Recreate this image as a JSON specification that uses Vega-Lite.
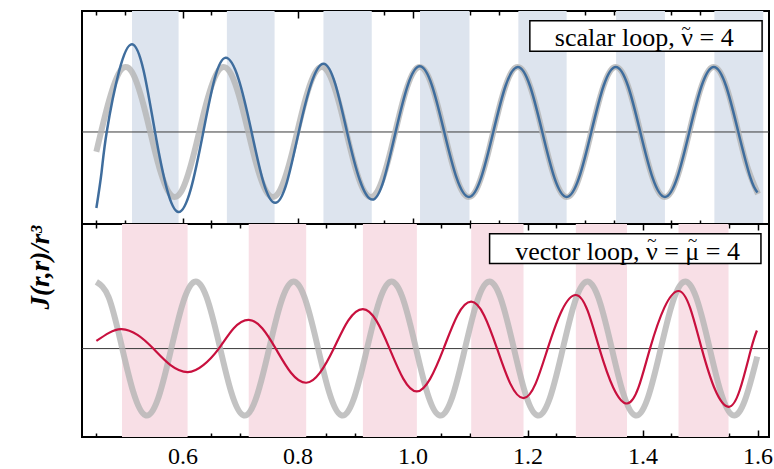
{
  "$schema": "https://vega.github.io/schema/vega-lite/v6.json",
  "padding": {"left": 25, "top": 9, "right": 4, "bottom": 0},
  "spacing": 0,
  "bounds": "flush",
  "background": "white",
  "config": {
    "view": {"stroke": "black", "strokeWidth": 2},
    "axis": {"grid": false, "domain": false, "labelFont": "Liberation Serif", "titleFont": "Liberation Serif"}
  },
  "datasets": {
    "topBands": [
      {"start": 0.512, "end": 0.593}, {"start": 0.677, "end": 0.760}, {"start": 0.845, "end": 0.929},
      {"start": 1.013, "end": 1.099}, {"start": 1.184, "end": 1.268}, {"start": 1.354, "end": 1.439},
      {"start": 1.525, "end": 1.610}
    ],
    "botBands": [
      {"start": 0.4946, "end": 0.6087}, {"start": 0.715, "end": 0.815}, {"start": 0.9136, "end": 1.0075},
      {"start": 1.102, "end": 1.193}, {"start": 1.284, "end": 1.373}, {"start": 1.4626, "end": 1.5496}
    ],
    "topGrey": [
      {"x": 0.4500, "y": -0.304}, {"x": 0.4713, "y": 0.459}, {"x": 0.4926, "y": 0.953}, {"x": 0.5139, "y": 0.889},
      {"x": 0.5353, "y": 0.304}, {"x": 0.5566, "y": -0.459}, {"x": 0.5779, "y": -0.953}, {"x": 0.5992, "y": -0.889},
      {"x": 0.6205, "y": -0.304}, {"x": 0.6418, "y": 0.459}, {"x": 0.6631, "y": 0.953}, {"x": 0.6844, "y": 0.889},
      {"x": 0.7058, "y": 0.304}, {"x": 0.7271, "y": -0.459}, {"x": 0.7484, "y": -0.953}, {"x": 0.7697, "y": -0.889},
      {"x": 0.7910, "y": -0.304}, {"x": 0.8123, "y": 0.459}, {"x": 0.8336, "y": 0.953}, {"x": 0.8549, "y": 0.889},
      {"x": 0.8763, "y": 0.304}, {"x": 0.8976, "y": -0.459}, {"x": 0.9189, "y": -0.953}, {"x": 0.9402, "y": -0.889},
      {"x": 0.9615, "y": -0.304}, {"x": 0.9828, "y": 0.459}, {"x": 1.0041, "y": 0.953}, {"x": 1.0254, "y": 0.889},
      {"x": 1.0468, "y": 0.304}, {"x": 1.0681, "y": -0.459}, {"x": 1.0894, "y": -0.953}, {"x": 1.1107, "y": -0.889},
      {"x": 1.1320, "y": -0.304}, {"x": 1.1533, "y": 0.459}, {"x": 1.1746, "y": 0.953}, {"x": 1.1959, "y": 0.889},
      {"x": 1.2173, "y": 0.304}, {"x": 1.2386, "y": -0.459}, {"x": 1.2599, "y": -0.953}, {"x": 1.2812, "y": -0.889},
      {"x": 1.3025, "y": -0.304}, {"x": 1.3238, "y": 0.459}, {"x": 1.3451, "y": 0.953}, {"x": 1.3664, "y": 0.889},
      {"x": 1.3878, "y": 0.304}, {"x": 1.4091, "y": -0.459}, {"x": 1.4304, "y": -0.953}, {"x": 1.4517, "y": -0.889},
      {"x": 1.4730, "y": -0.304}, {"x": 1.4943, "y": 0.459}, {"x": 1.5156, "y": 0.953}, {"x": 1.5369, "y": 0.889},
      {"x": 1.5583, "y": 0.304}, {"x": 1.5796, "y": -0.459}, {"x": 1.6009, "y": -0.953}
    ],
    "topBlue": [
      {"x": 0.450, "y": -1.17}, {"x": 0.459, "y": -0.62}, {"x": 0.468, "y": 0}, {"x": 0.490, "y": 0.95},
      {"x": 0.512, "y": 1.35}, {"x": 0.532, "y": 0.95}, {"x": 0.552, "y": 0}, {"x": 0.5725, "y": -0.87},
      {"x": 0.593, "y": -1.23}, {"x": 0.6145, "y": -0.87}, {"x": 0.636, "y": 0}, {"x": 0.6555, "y": 0.81},
      {"x": 0.675, "y": 1.14}, {"x": 0.6975, "y": 0.81}, {"x": 0.720, "y": 0}, {"x": 0.7405, "y": -0.77},
      {"x": 0.761, "y": -1.09}, {"x": 0.7815, "y": -0.77}, {"x": 0.802, "y": 0}, {"x": 0.8235, "y": 0.74},
      {"x": 0.845, "y": 1.05}, {"x": 0.8655, "y": 0.74}, {"x": 0.886, "y": 0}, {"x": 0.908, "y": -0.735},
      {"x": 0.930, "y": -1.04}, {"x": 0.950, "y": -0.735}, {"x": 0.9705, "y": 0}, {"x": 0.9915, "y": 0.714},
      {"x": 1.0125, "y": 1.01}, {"x": 1.0338, "y": 0.714}, {"x": 1.0551, "y": 0}, {"x": 1.0766, "y": -0.707},
      {"x": 1.098, "y": -1.0}, {"x": 1.1192, "y": -0.707}, {"x": 1.1404, "y": 0}, {"x": 1.1617, "y": 0.707},
      {"x": 1.183, "y": 1.0}, {"x": 1.2043, "y": 0.707}, {"x": 1.2256, "y": 0}, {"x": 1.2468, "y": -0.707},
      {"x": 1.268, "y": -1.0}, {"x": 1.2895, "y": -0.707}, {"x": 1.3109, "y": 0}, {"x": 1.3322, "y": 0.707},
      {"x": 1.3535, "y": 1.0}, {"x": 1.3748, "y": 0.707}, {"x": 1.3961, "y": 0}, {"x": 1.4176, "y": -0.707},
      {"x": 1.439, "y": -1.0}, {"x": 1.4602, "y": -0.707}, {"x": 1.4814, "y": 0}, {"x": 1.5027, "y": 0.707},
      {"x": 1.524, "y": 1.0}, {"x": 1.5453, "y": 0.707}, {"x": 1.5666, "y": 0}, {"x": 1.5878, "y": -0.707},
      {"x": 1.600, "y": -0.93}
    ],
    "botGrey": [
      {"x": 0.4500, "y": 0.996}, {"x": 0.4713, "y": 0.769}, {"x": 0.4926, "y": 0.092}, {"x": 0.5139, "y": -0.639},
      {"x": 0.5352, "y": -0.996}, {"x": 0.5564, "y": -0.769}, {"x": 0.5777, "y": -0.092}, {"x": 0.5990, "y": 0.639},
      {"x": 0.6203, "y": 0.996}, {"x": 0.6416, "y": 0.769}, {"x": 0.6629, "y": 0.092}, {"x": 0.6842, "y": -0.639},
      {"x": 0.7055, "y": -0.996}, {"x": 0.7267, "y": -0.769}, {"x": 0.7480, "y": -0.092}, {"x": 0.7693, "y": 0.639},
      {"x": 0.7906, "y": 0.996}, {"x": 0.8119, "y": 0.769}, {"x": 0.8332, "y": 0.092}, {"x": 0.8545, "y": -0.639},
      {"x": 0.8758, "y": -0.996}, {"x": 0.8970, "y": -0.769}, {"x": 0.9183, "y": -0.092}, {"x": 0.9396, "y": 0.639},
      {"x": 0.9609, "y": 0.996}, {"x": 0.9822, "y": 0.769}, {"x": 1.0035, "y": 0.092}, {"x": 1.0248, "y": -0.639},
      {"x": 1.0461, "y": -0.996}, {"x": 1.0673, "y": -0.769}, {"x": 1.0886, "y": -0.092}, {"x": 1.1099, "y": 0.639},
      {"x": 1.1312, "y": 0.996}, {"x": 1.1525, "y": 0.769}, {"x": 1.1738, "y": 0.092}, {"x": 1.1951, "y": -0.639},
      {"x": 1.2164, "y": -0.996}, {"x": 1.2376, "y": -0.769}, {"x": 1.2589, "y": -0.092}, {"x": 1.2802, "y": 0.639},
      {"x": 1.3015, "y": 0.996}, {"x": 1.3228, "y": 0.769}, {"x": 1.3441, "y": 0.092}, {"x": 1.3654, "y": -0.639},
      {"x": 1.3867, "y": -0.996}, {"x": 1.4079, "y": -0.769}, {"x": 1.4292, "y": -0.092}, {"x": 1.4505, "y": 0.639},
      {"x": 1.4718, "y": 0.996}, {"x": 1.4931, "y": 0.769}, {"x": 1.5144, "y": 0.092}, {"x": 1.5357, "y": -0.639},
      {"x": 1.5570, "y": -0.996}, {"x": 1.5782, "y": -0.769}, {"x": 1.5995, "y": -0.12}
    ],
    "botRed": [
      {"x": 0.450, "y": 0.115}, {"x": 0.472, "y": 0.235}, {"x": 0.494, "y": 0.29}, {"x": 0.5215, "y": 0.205},
      {"x": 0.549, "y": 0}, {"x": 0.579, "y": -0.247}, {"x": 0.609, "y": -0.35}, {"x": 0.636, "y": -0.247},
      {"x": 0.663, "y": 0}, {"x": 0.689, "y": 0.304}, {"x": 0.715, "y": 0.43}, {"x": 0.7385, "y": 0.304},
      {"x": 0.762, "y": 0}, {"x": 0.7885, "y": -0.36}, {"x": 0.815, "y": -0.51}, {"x": 0.839, "y": -0.36},
      {"x": 0.863, "y": 0}, {"x": 0.888, "y": 0.417}, {"x": 0.9136, "y": 0.59}, {"x": 0.937, "y": 0.417},
      {"x": 0.960, "y": 0}, {"x": 0.984, "y": -0.452}, {"x": 1.0075, "y": -0.64}, {"x": 1.0305, "y": -0.452},
      {"x": 1.054, "y": 0}, {"x": 1.078, "y": 0.495}, {"x": 1.102, "y": 0.70}, {"x": 1.1245, "y": 0.495},
      {"x": 1.147, "y": 0}, {"x": 1.170, "y": -0.523}, {"x": 1.193, "y": -0.74}, {"x": 1.214, "y": -0.523},
      {"x": 1.235, "y": 0}, {"x": 1.2595, "y": 0.566}, {"x": 1.284, "y": 0.80}, {"x": 1.3045, "y": 0.566},
      {"x": 1.325, "y": 0}, {"x": 1.349, "y": -0.58}, {"x": 1.373, "y": -0.82}, {"x": 1.393, "y": -0.58},
      {"x": 1.413, "y": 0}, {"x": 1.4378, "y": 0.608}, {"x": 1.4626, "y": 0.86}, {"x": 1.4828, "y": 0.608},
      {"x": 1.503, "y": 0}, {"x": 1.5263, "y": -0.615}, {"x": 1.5496, "y": -0.87}, {"x": 1.5693, "y": -0.615},
      {"x": 1.589, "y": 0}, {"x": 1.599, "y": 0.27}
    ]
  },
  "vconcat": [
    {
      "width": 687,
      "height": 213,
      "resolve": {"axis": {"x": "independent", "y": "independent"}},
      "layer": [
        {
          "data": {"name": "topBands"},
          "mark": {"type": "rect", "color": "#dde4ee", "clip": true},
          "encoding": {
            "x": {"field": "start", "type": "quantitative", "scale": {"domain": [0.425, 1.62], "nice": false, "zero": false},
              "axis": {"orient": "top", "values": [0.45,0.5,0.55,0.6,0.65,0.7,0.75,0.8,0.85,0.9,0.95,1.0,1.05,1.1,1.15,1.2,1.25,1.3,1.35,1.4,1.45,1.5,1.55,1.6],
                "labels": false, "title": null, "tickColor": "black", "tickWidth": 1.5,
                "tickSize": {"condition": {"test": "abs(datum.value*5 - round(datum.value*5)) < 0.01", "value": -7}, "value": -4}}},
            "x2": {"field": "end"}
          }
        },
        {
          "data": {"values": [{}]},
          "mark": {"type": "rule", "color": "#3a3a3a", "strokeWidth": 1},
          "encoding": {
            "y": {"datum": 0, "type": "quantitative", "scale": {"domain": [-1.415, 1.86], "nice": false, "zero": false},
              "axis": {"orient": "left", "labels": false, "ticks": false, "domain": false, "grid": false,
                "title": "J(r,r)/r³", "titleFont": "Liberation Serif", "titleFontSize": 27, "titleFontStyle": "italic",
                "titleFontWeight": "bold", "titleColor": "black", "titleAngle": 270, "titleAlign": "center",
                "titleBaseline": "middle", "titleX": -42, "titleY": 256}}
          }
        },
        {
          "data": {"name": "topGrey"},
          "mark": {"type": "line", "color": "#b4b4b4", "opacity": 0.8, "strokeWidth": 6, "interpolate": "natural", "clip": true},
          "encoding": {
            "x": {"field": "x", "type": "quantitative",
              "axis": {"orient": "bottom", "values": [0.45,0.5,0.55,0.6,0.65,0.7,0.75,0.8,0.85,0.9,0.95,1.0,1.05,1.1,1.15,1.2,1.25,1.3,1.35,1.4,1.45,1.5,1.55,1.6],
                "labels": false, "title": null, "tickColor": "black", "tickWidth": 1.5,
                "tickSize": {"condition": {"test": "abs(datum.value*5 - round(datum.value*5)) < 0.01", "value": -6}, "value": -4}}},
            "y": {"field": "y", "type": "quantitative", "axis": null}
          }
        },
        {
          "data": {"name": "topBlue"},
          "mark": {"type": "line", "color": "#3f6d9d", "strokeWidth": 2.5, "interpolate": "natural", "clip": true},
          "encoding": {
            "x": {"field": "x", "type": "quantitative", "axis": null},
            "y": {"field": "y", "type": "quantitative", "axis": null}
          }
        },
        {
          "data": {"values": [{"x1": 1.204, "x2": 1.608, "y1": 1.24, "y2": 1.71}]},
          "mark": {"type": "rect", "fill": "white", "stroke": "black", "strokeWidth": 1.5},
          "encoding": {
            "x": {"field": "x1", "type": "quantitative", "axis": null},
            "x2": {"field": "x2"},
            "y": {"field": "y1", "type": "quantitative", "axis": null},
            "y2": {"field": "y2"}
          }
        },
        {
          "data": {"values": [{"x": 1.403, "y": 1.44, "label": "scalar loop, ν = 4"}]},
          "mark": {"type": "text", "font": "Liberation Serif", "fontSize": 26, "color": "black", "align": "center", "baseline": "middle"},
          "encoding": {
            "x": {"field": "x", "type": "quantitative", "axis": null},
            "y": {"field": "y", "type": "quantitative", "axis": null},
            "text": {"field": "label"}
          }
        },
        {
          "data": {"values": [{"x": 1.476, "y": 1.585, "label": "~"}]},
          "mark": {"type": "text", "font": "Liberation Serif", "fontSize": 17, "color": "black", "align": "center", "baseline": "middle"},
          "encoding": {
            "x": {"field": "x", "type": "quantitative", "axis": null},
            "y": {"field": "y", "type": "quantitative", "axis": null},
            "text": {"field": "label"}
          }
        }
      ]
    },
    {
      "width": 687,
      "height": 213,
      "resolve": {"axis": {"x": "independent", "y": "independent"}},
      "layer": [
        {
          "data": {"name": "botBands"},
          "mark": {"type": "rect", "color": "#f8dfe6", "clip": true},
          "encoding": {
            "x": {"field": "start", "type": "quantitative", "scale": {"domain": [0.425, 1.62], "nice": false, "zero": false},
              "axis": {"orient": "top", "values": [0.45,0.5,0.55,0.6,0.65,0.7,0.75,0.8,0.85,0.9,0.95,1.0,1.05,1.1,1.15,1.2,1.25,1.3,1.35,1.4,1.45,1.5,1.55,1.6],
                "labels": false, "title": null, "tickColor": "black", "tickWidth": 1.5,
                "tickSize": {"condition": {"test": "abs(datum.value*5 - round(datum.value*5)) < 0.01", "value": -6}, "value": -4}}},
            "x2": {"field": "end"}
          }
        },
        {
          "data": {"values": [{}]},
          "mark": {"type": "rule", "color": "#3a3a3a", "strokeWidth": 1},
          "encoding": {
            "y": {"datum": 0, "type": "quantitative", "scale": {"domain": [-1.32, 1.86], "nice": false, "zero": false}, "axis": null}
          }
        },
        {
          "data": {"name": "botGrey"},
          "mark": {"type": "line", "color": "#b4b4b4", "opacity": 0.8, "strokeWidth": 6, "interpolate": "natural", "clip": true},
          "encoding": {
            "x": {"field": "x", "type": "quantitative",
              "axis": {"orient": "bottom", "values": [0.45,0.5,0.55,0.6,0.65,0.7,0.75,0.8,0.85,0.9,0.95,1.0,1.05,1.1,1.15,1.2,1.25,1.3,1.35,1.4,1.45,1.5,1.55,1.6],
                "title": null, "tickColor": "black", "tickWidth": 1.5,
                "labelExpr": "abs(datum.value*5 - round(datum.value*5)) < 0.01 ? format(datum.value, '.1f') : ''",
                "labelFont": "Liberation Serif", "labelFontSize": 24, "labelColor": "black",
                "labelOverlap": false, "labelFlush": false, "labelPadding": 14,
                "tickSize": {"condition": {"test": "abs(datum.value*5 - round(datum.value*5)) < 0.01", "value": -7}, "value": -4}}},
            "y": {"field": "y", "type": "quantitative", "axis": null}
          }
        },
        {
          "data": {"name": "botRed"},
          "mark": {"type": "line", "color": "#c8103e", "strokeWidth": 2.2, "interpolate": "natural", "clip": true},
          "encoding": {
            "x": {"field": "x", "type": "quantitative", "axis": null},
            "y": {"field": "y", "type": "quantitative", "axis": null}
          }
        },
        {
          "data": {"values": [{"x1": 1.134, "x2": 1.606, "y1": 1.27, "y2": 1.716}]},
          "mark": {"type": "rect", "fill": "white", "stroke": "black", "strokeWidth": 1.5},
          "encoding": {
            "x": {"field": "x1", "type": "quantitative", "axis": null},
            "x2": {"field": "x2"},
            "y": {"field": "y1", "type": "quantitative", "axis": null},
            "y2": {"field": "y2"}
          }
        },
        {
          "data": {"values": [{"x": 1.374, "y": 1.443, "label": "vector loop, ν = μ = 4"}]},
          "mark": {"type": "text", "font": "Liberation Serif", "fontSize": 26, "color": "black", "align": "center", "baseline": "middle"},
          "encoding": {
            "x": {"field": "x", "type": "quantitative", "axis": null},
            "y": {"field": "y", "type": "quantitative", "axis": null},
            "text": {"field": "label"}
          }
        },
        {
          "data": {"values": [{"x": 1.416, "y": 1.607, "label": "~"}, {"x": 1.487, "y": 1.607, "label": "~"}]},
          "mark": {"type": "text", "font": "Liberation Serif", "fontSize": 17, "color": "black", "align": "center", "baseline": "middle"},
          "encoding": {
            "x": {"field": "x", "type": "quantitative", "axis": null},
            "y": {"field": "y", "type": "quantitative", "axis": null},
            "text": {"field": "label"}
          }
        }
      ]
    }
  ]
}
